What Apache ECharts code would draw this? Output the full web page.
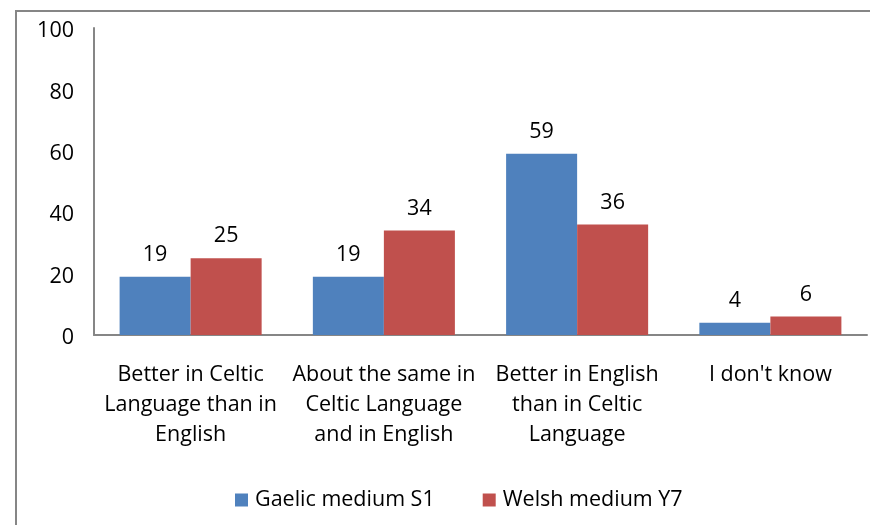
<!DOCTYPE html>
<html>
<head>
<meta charset="utf-8">
<script src="https://cdn.jsdelivr.net/npm/echarts@6/dist/echarts.min.js"></script>
<style>html,body{margin:0;padding:0;background:#fff}#c{width:870px;height:525px}</style>
</head>
<body>
<div id="c"></div>
<script>
var categories = [
  "Better in Celtic\nLanguage than in\nEnglish",
  "About the same in\nCeltic Language\nand in English",
  "Better in English\nthan in Celtic\nLanguage",
  "I don't know"
];
var seriesNames = ["Gaelic medium S1", "Welsh medium Y7"];
var gaelic = [19, 19, 59, 4];
var welsh = [25, 34, 36, 6];
var yTicks = { min: 0, max: 100, interval: 20 };

var FONT = "Open Sans";
var FS = 21.5;
var chart = echarts.init(document.getElementById('c'), null, { renderer: 'canvas' });
chart.setOption({
  animation: false,
  textStyle: { fontFamily: FONT, color: '#000' },
  graphic: [{
    type: 'rect', shape: { x: 16, y: 11, width: 900, height: 600 },
    style: { fill: 'none', stroke: '#868686', lineWidth: 2 }, silent: true
  }],
  grid: { left: 94, right: 3, top: 28, bottom: 190, containLabel: false },
  legend: {
    left: 230, top: 484, itemWidth: 13, itemHeight: 13, itemGap: 48,
    icon: 'rect',
    textStyle: { fontFamily: FONT, fontSize: FS, color: '#000', padding: [0, 0, 0, 2] },
    data: seriesNames
  },
  xAxis: {
    type: 'category', data: categories,
    axisLine: { lineStyle: { color: '#868686', width: 2 } },
    axisTick: { show: false },
    axisLabel: { interval: 0, margin: 25, fontFamily: FONT, fontSize: FS, lineHeight: 30, color: '#000' }
  },
  yAxis: {
    type: 'value', min: yTicks.min, max: yTicks.max, interval: yTicks.interval,
    axisLine: { show: true, lineStyle: { color: '#868686', width: 2 } },
    axisTick: { show: false },
    splitLine: { show: false },
    axisLabel: {
      margin: 20, color: '#000',
      formatter: '{a|{value}}',
      rich: { a: { fontFamily: FONT, fontSize: FS, color: '#000', padding: [6, 0, 0, 0] } }
    }
  },
  series: [
    {
      name: seriesNames[0], type: 'bar', data: gaelic, barGap: '0%', barCategoryGap: '26.5%',
      itemStyle: { color: '#4F81BD' },
      label: { show: true, position: 'top', distance: 11, fontFamily: FONT, fontSize: FS, color: '#000' }
    },
    {
      name: seriesNames[1], type: 'bar', data: welsh, barGap: '0%', barCategoryGap: '26.5%',
      itemStyle: { color: '#C0504D' },
      label: { show: true, position: 'top', distance: 11, fontFamily: FONT, fontSize: FS, color: '#000' }
    }
  ]
});
</script>
</body>
</html>
